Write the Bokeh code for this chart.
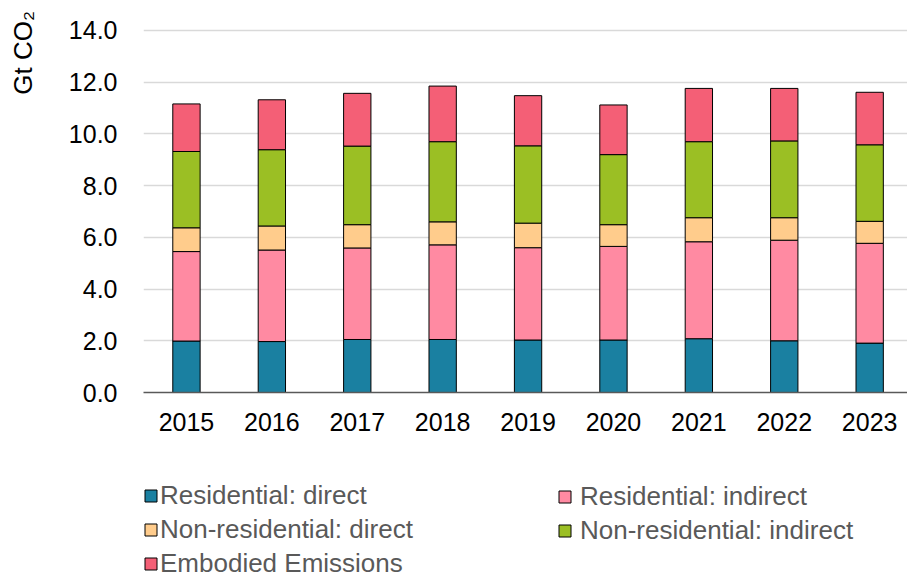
from bokeh.plotting import figure
from bokeh.layouts import column
from bokeh.models import Range1d, FixedTicker, Legend, LegendItem, NumeralTickFormatter
from bokeh.embed import file_html
from bokeh.resources import INLINE

years = [2015, 2016, 2017, 2018, 2019, 2020, 2021, 2022, 2023]
res_direct = [1.99, 1.97, 2.05, 2.05, 2.03, 2.03, 2.08, 2.00, 1.91]
res_indirect = [3.46, 3.54, 3.54, 3.66, 3.57, 3.62, 3.75, 3.89, 3.86]
nonres_direct = [0.92, 0.93, 0.90, 0.89, 0.95, 0.84, 0.93, 0.87, 0.85]
nonres_indirect = [2.95, 2.95, 3.04, 3.10, 2.99, 2.71, 2.94, 2.97, 2.96]
embodied = [1.84, 1.93, 2.04, 2.15, 1.94, 1.92, 2.06, 2.03, 2.03]

series = ["res_direct", "res_indirect", "nonres_direct", "nonres_indirect", "embodied"]
labels = ["Residential: direct", "Residential: indirect", "Non-residential: direct",
          "Non-residential: indirect", "Embodied Emissions"]
colors = ["#1a80a1", "#ff8aa2", "#ffcc8c", "#9bbf24", "#f45f76"]
yticks = [0, 2, 4, 6, 8, 10, 12, 14]
y_title = "Gt CO\u2082"

data = dict(year=years, res_direct=res_direct, res_indirect=res_indirect,
            nonres_direct=nonres_direct, nonres_indirect=nonres_indirect, embodied=embodied)

FONT = "Liberation Sans"

# ---- main chart ----
p = figure(width=907, height=445, output_backend="svg", toolbar_location=None,
           x_range=Range1d(2014.497, 2023.443), y_range=Range1d(0, 14.812),
           min_border_left=143, min_border_right=0, min_border_top=9, min_border_bottom=53)
p.outline_line_color = None
p.background_fill_color = "white"
p.border_fill_color = "white"

renderers = p.vbar_stack(series, x="year", width=0.32, source=data, fill_color=colors,
                         line_color="#000000", line_width=1)

p.xaxis.ticker = FixedTicker(ticks=years)
p.xaxis.major_tick_line_color = None
p.xaxis.minor_tick_line_color = None
p.xaxis.axis_line_color = "#595959"
p.xaxis.axis_line_width = 1.5
p.xaxis.major_label_text_font = FONT
p.xaxis.major_label_text_font_size = "25px"
p.xaxis.major_label_text_color = "#000000"
p.xaxis.major_label_standoff = 14

p.yaxis.ticker = FixedTicker(ticks=yticks)
p.yaxis.formatter = NumeralTickFormatter(format="0.0")
p.yaxis.axis_line_color = None
p.yaxis.major_tick_line_color = None
p.yaxis.minor_tick_line_color = None
p.yaxis.major_label_text_font = FONT
p.yaxis.major_label_text_font_size = "25px"
p.yaxis.major_label_text_color = "#000000"
p.yaxis.major_label_standoff = 20
# label anchored at the top of the axis; trailing no-break spaces shift it down
p.yaxis.axis_label = y_title + "\u00a0" * 12
p.yaxis.axis_label_text_font = FONT
p.yaxis.axis_label_text_font_size = "26px"
p.yaxis.axis_label_text_font_style = "normal"
p.yaxis.axis_label_text_color = "#000000"
p.yaxis.axis_label_standoff = 28
p.yaxis.axis_label_align = "end"

p.xgrid.grid_line_color = None
p.ygrid.grid_line_color = "#d9d9d9"
p.ygrid.grid_line_width = 1.5

# ---- legend panel ----
p2 = figure(width=907, height=131, output_backend="svg", toolbar_location=None,
            x_range=Range1d(0, 1), y_range=Range1d(0, 1),
            x_axis_location=None, y_axis_location=None,
            min_border_left=0, min_border_right=0, min_border_top=0, min_border_bottom=0)
p2.outline_line_color = None
p2.xgrid.grid_line_color = None
p2.ygrid.grid_line_color = None

# legend keys (same series; their bars fall outside this panel's range)
keys = p2.vbar_stack(series, x="year", width=0.32, source=data, fill_color=colors,
                     line_color="#000000", line_width=1)

def make_legend(idx, x, y, standoff):
    items = [LegendItem(label=labels[i], renderers=[keys[i]]) for i in idx]
    lg = Legend(items=items, location=(x, y), orientation="vertical",
                glyph_width=15, glyph_height=15, label_standoff=standoff,
                label_text_font=FONT, label_text_font_size="26px",
                label_text_color="#595959", spacing=3, padding=0, margin=0,
                background_fill_alpha=0, border_line_alpha=0, label_height=30)
    p2.add_layout(lg, "center")

make_legend((0, 2, 4), 0, -3, 2)
make_legend((1, 3), 414, 30, 8)

open("out.html", "w").write(file_html(column(p, p2, spacing=0), INLINE))
